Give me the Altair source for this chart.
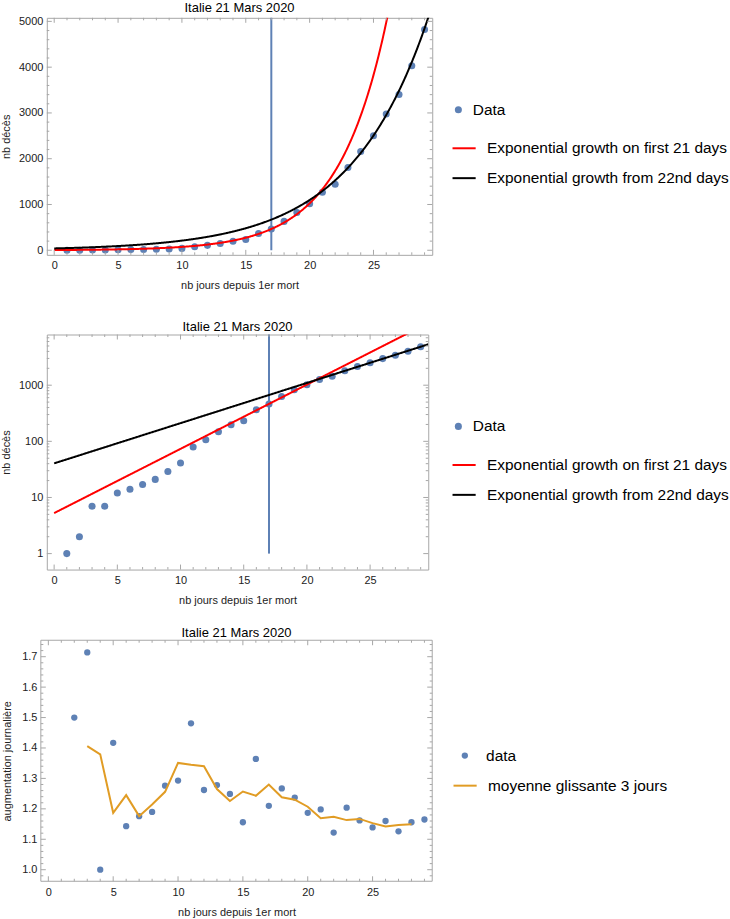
import altair as alt
import pandas as pd

# ---------------- data ----------------
days = list(range(1, 30))
deaths = [1, 2, 7, 7, 12, 14, 17, 21, 29, 41, 79, 107, 148, 197, 233, 366, 463,
          631, 827, 1016, 1266, 1441, 1809, 2158, 2503, 2978, 3405, 4032, 4825]

ratio_days = list(range(2, 30))
ratios = [1.500, 1.714, 1.000, 1.417, 1.143, 1.176, 1.190, 1.276, 1.293, 1.481,
          1.262, 1.278, 1.249, 1.156, 1.364, 1.210, 1.267, 1.237, 1.187, 1.198,
          1.122, 1.204, 1.162, 1.139, 1.160, 1.126, 1.156, 1.165]

avg_days = list(range(3, 29))
avg_vals = [1.406, 1.379, 1.187, 1.245, 1.176, 1.214, 1.256, 1.351, 1.345, 1.340,
            1.265, 1.226, 1.257, 1.243, 1.280, 1.238, 1.230, 1.207, 1.169, 1.174,
            1.163, 1.167, 1.153, 1.142, 1.147, 1.149]

# exponential fits: (prefactor, rate)
fit_first21 = (5.27, 0.2635)
fit_from22 = (40.5, 0.165)
marker_day = 17

TITLE = "Italie 21 Mars 2020"
XTITLE = "nb jours depuis 1er mort"
LBL_DATA = "Data"
LBL_RED = "Exponential growth on first 21 days"
LBL_BLACK = "Exponential growth from 22nd days"
LBL_DATA3 = "data"
LBL_AVG = "moyenne glissante 3 jours"

BLUE = "#5e81b5"
ORANGE = "#e19c24"
TICK = "#a6a6a6"
FONT = "Liberation Sans"

x_major = [0, 5, 10, 15, 20, 25]
x_minor = [v for v in range(0, 30) if v % 5 != 0]
xdom = [-0.58, 29.6]


def tick_layers(xscale, yscale, xax, yax, ymaj, ymin, W, H, x0=0):
    layers = []
    for vals, ln in ((x_major, 5), (x_minor, 2.5)):
        d = pd.DataFrame({"t": vals})
        base = alt.Chart(d).mark_rule(color=TICK, strokeWidth=1)
        layers.append(base.encode(x=alt.X("t:Q", scale=xscale, axis=xax),
                                  y=alt.value(H), y2=alt.value(H - ln)))
        layers.append(base.encode(x=alt.X("t:Q", scale=xscale, axis=xax),
                                  y=alt.value(0), y2=alt.value(ln)))
    for vals, ln in ((ymaj, 5), (ymin, 2.5)):
        d = pd.DataFrame({"t": vals})
        base = alt.Chart(d).mark_rule(color=TICK, strokeWidth=1)
        layers.append(base.encode(y=alt.Y("t:Q", scale=yscale, axis=yax),
                                  x=alt.value(x0), x2=alt.value(x0 + ln)))
        layers.append(base.encode(y=alt.Y("t:Q", scale=yscale, axis=yax),
                                  x=alt.value(W), x2=alt.value(W - ln)))
    return layers


def make_xaxis():
    return alt.Axis(values=x_major, title=XTITLE, ticks=False, tickSize=0,
                    labelPadding=5, titlePadding=9, domain=False, grid=False)


def point_legend(lx, ly, size, off):
    return alt.Legend(title=None, orient="none", legendX=lx, legendY=ly,
                      symbolType="circle", symbolSize=size,
                      labelFontSize=15.5, labelFont=FONT, labelColor="#000",
                      labelOffset=off, labelLimit=0, padding=0)


def line_legend(lx, ly):
    return alt.Legend(title=None, orient="none", legendX=lx, legendY=ly,
                      symbolType="stroke", symbolSize=540, symbolStrokeWidth=2,
                      labelFontSize=15.5, labelFont=FONT, labelColor="#000",
                      labelOffset=10, labelLimit=0, rowPadding=8, padding=0)


def title_params(dx=0):
    return alt.TitleParams(TITLE, fontSize=13, font=FONT, color="#000",
                           fontWeight="normal", offset=0, dx=dx)


def growth_panel(log, W, H, ydom, ymaj, ymin, ytp, rule_bottom):
    xscale = alt.Scale(domain=xdom, nice=False, zero=False)
    if log:
        yscale = alt.Scale(type="log", domain=ydom, nice=False)
    else:
        yscale = alt.Scale(domain=ydom, nice=False, zero=False)
    xax = make_xaxis()
    yax = alt.Axis(values=ymaj, title="nb décès", ticks=False, tickSize=0,
                   labelPadding=4, titlePadding=ytp, domain=False, grid=False,
                   format="d")

    df = pd.DataFrame({"x": days, "y": deaths, "s": [LBL_DATA] * len(days)})
    pts = alt.Chart(df).mark_point(filled=True, size=50, opacity=1).encode(
        x=alt.X("x:Q", scale=xscale, axis=xax),
        y=alt.Y("y:Q", scale=yscale, axis=yax),
        color=alt.Color("s:N", scale=alt.Scale(domain=[LBL_DATA], range=[BLUE]),
                        legend=point_legend(405.5, 84.5, 50, 6.7)),
    )

    curves = []
    for (a, k), lab in ((fit_first21, LBL_RED), (fit_from22, LBL_BLACK)):
        c = alt.Chart(alt.sequence(0, 29.65, 0.05, as_="x")).transform_calculate(
            y=f"{a}*exp({k}*datum.x)", series=f"'{lab}'"
        ).mark_line(strokeWidth=2, clip=True).encode(
            x=alt.X("x:Q", scale=xscale, axis=xax),
            y=alt.Y("y:Q", scale=yscale, axis=yax),
            stroke=alt.Stroke("series:N",
                              scale=alt.Scale(domain=[LBL_RED, LBL_BLACK],
                                              range=["#ff0000", "#000000"]),
                              legend=line_legend(406, 118)),
        )
        curves.append(c)

    rule = alt.Chart(pd.DataFrame({"x": [marker_day], "y": [rule_bottom]})).mark_rule(
        color=BLUE, strokeWidth=2
    ).encode(
        x=alt.X("x:Q", scale=xscale, axis=xax),
        y=alt.Y("y:Q", scale=yscale, axis=yax),
        y2=alt.value(0),
    )

    layers = [pts, rule] + curves + tick_layers(xscale, yscale, xax, yax, ymaj, ymin, W, H)
    return alt.layer(*layers).properties(width=W, height=H, title=title_params())


lin_major = [0, 1000, 2000, 3000, 4000, 5000]
lin_minor = [v for v in range(0, 5001, 200) if v % 1000 != 0]
log_major = [1, 10, 100, 1000]
log_minor = [m * 10 ** e for e in range(0, 4) for m in range(2, 10) if m * 10 ** e < 8000]

p1 = growth_panel(False, 387, 238, [-100, 5078], lin_major, lin_minor, 7, 0)
p2 = growth_panel(True, 383, 236, [0.52, 8000], log_major, log_minor, 7, 1)

# ---------------- panel 3 ----------------
# the plot frame of this panel starts 6px left of the two panels above
X0 = -6
W3, H3 = 387, 242
xs3 = alt.Scale(domain=xdom, nice=False, zero=False, range=[X0, W3])
ys3 = alt.Scale(domain=[0.962, 1.754], nice=False, zero=False)
r_major = [1.0, 1.1, 1.2, 1.3, 1.4, 1.5, 1.6, 1.7]
r_minor = [round(0.96 + 0.02 * i, 2) for i in range(0, 40)]
r_minor = [v for v in r_minor if 0.962 <= v <= 1.754 and abs(v * 10 - round(v * 10)) > 1e-6]
xax3 = make_xaxis()
yax3 = alt.Axis(values=r_major, title="augmentation journalière",
                ticks=False, tickSize=0, labelPadding=4 - X0, titlePadding=9,
                domain=False, grid=False, format=".1f")

df3 = pd.DataFrame({"x": ratio_days, "y": ratios, "s": [LBL_DATA3] * len(ratio_days)})
pts3 = alt.Chart(df3).mark_point(filled=True, size=40, opacity=1).encode(
    x=alt.X("x:Q", scale=xs3, axis=xax3),
    y=alt.Y("y:Q", scale=ys3, axis=yax3),
    color=alt.Color("s:N", scale=alt.Scale(domain=[LBL_DATA3], range=[BLUE]),
                    legend=point_legend(412, 108, 40, 13.6)),
)
df_avg = pd.DataFrame({"x": avg_days, "y": avg_vals, "s": [LBL_AVG] * len(avg_days)})
line3 = alt.Chart(df_avg).mark_line(strokeWidth=2).encode(
    x=alt.X("x:Q", scale=xs3, axis=xax3),
    y=alt.Y("y:Q", scale=ys3, axis=yax3),
    stroke=alt.Stroke("s:N", scale=alt.Scale(domain=[LBL_AVG], range=[ORANGE]),
                      legend=line_legend(407, 133)),
)
frame3 = alt.Chart(pd.DataFrame({"k": [0]})).mark_rect(
    fill="transparent", stroke="#a6a6a6", strokeWidth=1
).encode(x=alt.value(X0), x2=alt.value(W3), y=alt.value(0), y2=alt.value(H3))

p3 = alt.layer(*([pts3, line3, frame3] +
                 tick_layers(xs3, ys3, xax3, yax3, r_major, r_minor, W3, H3, x0=X0))).properties(
    width=W3, height=H3, title=title_params(dx=X0 / 2),
    view=alt.ViewBackground(stroke="transparent"))

inner = alt.concat(p2, p3, columns=1, spacing=20).resolve_scale(
    color="independent", stroke="independent").resolve_legend(
    color="independent", stroke="independent")
chart = alt.concat(p1, inner, columns=1, spacing=28).resolve_scale(
    color="independent", stroke="independent").resolve_legend(
    color="independent", stroke="independent").properties(
    padding={"left": 0, "top": 0, "right": 0, "bottom": 0}
).configure_view(stroke="#a6a6a6", strokeWidth=1).configure_axis(
    labelFont=FONT, labelFontSize=11, labelColor="#222",
    titleFont=FONT, titleFontSize=11, titleColor="#222", titleFontWeight="normal",
).configure_legend(symbolOpacity=1)

chart.save("out.html", embed_options={"renderer": "svg", "actions": False})
